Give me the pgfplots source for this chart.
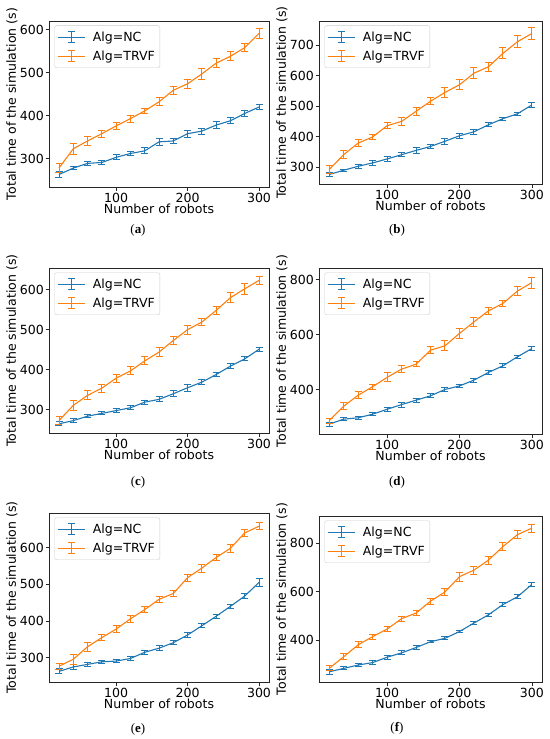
\documentclass[border=0pt]{standalone}
\usepackage{pgfplots}
\pgfplotsset{compat=1.18}
\usepackage{pgfplotstable}
\usepackage{fontspec}
\setmainfont{DejaVu Sans}
\newfontfamily\capfont{Liberation Serif}
\definecolor{tabblue}{HTML}{1F77B4}
\definecolor{taborange}{HTML}{FF7F0E}
\newcommand\fs{\fontsize{12.6}{15}\selectfont}

\pgfplotstableread{
x n ne t te
20 263 7 278 11
40 278 4 323 13
60 289 4 341 11
80 291 5 358 8
100 303 6 376 8
120 312 5 393 8
140 318 7 411 6
160 339 8 432 9
180 341 6 459 9
200 358 8 474 10
220 364 7 497 12
240 378 8 522 11
260 388 7 538 10
280 405 7 558 9
300 420 6 591 11
}\tA
\pgfplotstableread{
x n ne t te
20 276 6 292 12
40 290 4 341 13
60 303 6 379 12
80 314 7 399 9
100 327 7 436 10
120 341 7 450 12
140 355 9 483 12
160 368 8 516 11
180 385 9 545 15
200 403 8 570 16
220 416 8 608 19
240 439 7 629 15
260 459 5 673 18
280 475 5 711 19
300 504 7 738 19
}\tB
\pgfplotstableread{
x n ne t te
20 265 5 273 10
40 273 5 311 13
60 284 4 336 11
80 291 4 354 10
100 298 5 379 10
120 305 5 397 10
140 319 5 422 10
160 326 6 444 11
180 340 7 473 9
200 355 9 500 11
220 369 7 519 9
240 388 5 548 11
260 409 6 580 12
280 427 5 602 13
300 451 5 623 10
}\tC
\pgfplotstableread{
x n ne t te
20 274 7 286 8
40 292 5 339 13
60 297 5 379 13
80 310 6 410 9
100 328 8 444 16
120 345 9 474 13
140 361 8 492 10
160 377 7 543 12
180 400 6 559 18
200 413 6 604 17
220 434 7 646 17
240 462 6 686 14
260 486 7 713 12
280 519 6 758 15
300 549 7 789 20
}\tD
\pgfplotstableread{
x n ne t te
20 263 7 277 8
40 275 6 296 13
60 282 5 330 12
80 289 4 355 9
100 291 4 378 10
120 298 5 406 10
140 315 6 431 9
160 326 7 459 8
180 341 5 475 8
200 362 6 518 10
220 387 5 544 11
240 413 5 573 9
260 440 6 598 11
280 468 7 640 10
300 505 10 658 10
}\tE
\pgfplotstableread{
x n ne t te
20 270 9 284 10
40 284 6 332 13
60 298 5 381 12
80 308 7 415 10
100 330 9 446 11
120 348 8 489 11
140 370 8 512 10
160 394 5 561 13
180 408 6 599 15
200 436 6 662 19
220 471 6 689 17
240 505 5 730 16
260 547 7 786 17
280 579 8 835 17
300 630 9 862 16
}\tF

\pgfplotsset{
  panel/.style={
    scale only axis,
    xmin=6, xmax=314,
    xtick={100,200,300},
    tick align=outside,
    xtick pos=bottom, ytick pos=left,
    major tick length=3.5bp,
    every tick/.style={black!85, line width=0.6bp},
    axis line style={black!85, line width=0.6bp},
    tick label style={font=\fs},
    yticklabel style={inner xsep=1.5bp},
    xticklabel style={inner ysep=2bp},
    label style={font=\fs},
    /pgf/number format/assume math mode=true,
    xlabel={Number of robots},
    ylabel={Total time of the simulation (s)},
    xlabel style={at={(axis description cs:0.5,0)}, anchor=base, yshift=-26.5bp},
    ylabel style={at={(axis description cs:0,0.5)}, anchor=center, yshift=37bp},
    legend style={at={(axis description cs:0,1)}, anchor=north west,
      xshift=5.5bp, yshift=-4.5bp, draw=black!20,
      rounded corners=2bp, fill=white, font=\fs, inner xsep=3bp, inner ysep=4bp,
      row sep=4bp, column sep=5bp, cells={anchor=west}},
    legend cell align=left,
  },
  ncs/.style={tabblue, line width=1.1bp, no marks,
    legend image code/.code={
      \draw[tabblue, line width=1.1bp] (0bp,0bp) -- (27bp,0bp);
      \draw[tabblue, line width=1bp] (13.5bp,-5.5bp) -- (13.5bp,5.5bp);
      \draw[tabblue, line width=1bp] (10bp,-5.5bp) -- (17bp,-5.5bp);
      \draw[tabblue, line width=1bp] (10bp,5.5bp) -- (17bp,5.5bp);},
    error bars/.cd, y dir=both, y explicit,
    error bar style={line width=1bp, tabblue},
    error mark options={rotate=90, tabblue, mark size=3.5bp, line width=1bp}},
  trs/.style={taborange, line width=1.1bp, no marks,
    legend image code/.code={
      \draw[taborange, line width=1.1bp] (0bp,0bp) -- (27bp,0bp);
      \draw[taborange, line width=1bp] (13.5bp,-5.5bp) -- (13.5bp,5.5bp);
      \draw[taborange, line width=1bp] (10bp,-5.5bp) -- (17bp,-5.5bp);
      \draw[taborange, line width=1bp] (10bp,5.5bp) -- (17bp,5.5bp);},
    error bars/.cd, y dir=both, y explicit,
    error bar style={line width=1bp, taborange},
    error mark options={rotate=90, taborange, mark size=3.5bp, line width=1bp}},
}

\begin{document}
\begin{tikzpicture}[x=1bp,y=1bp]
\fill[white] (0,0) rectangle (550,-739);
\useasboundingbox (0,0) rectangle (550,-739);

% (a)
\begin{axis}[panel, at={(49bp,-187bp)}, anchor=south west, width=220bp, height=166bp,
  ymin=234, ymax=620, ytick={300,400,500,600}]
\addplot[ncs] table[x=x, y=n, y error=ne] {\tA};
\addplot[trs] table[x=x, y=t, y error=te] {\tA};
\legend{Alg=NC, Alg=TRVF}
\end{axis}
% (b)
\begin{axis}[panel, at={(319bp,-184bp)}, anchor=south west, width=223bp, height=163bp,
  ymin=245, ymax=779, ytick={300,400,500,600,700}]
\addplot[ncs] table[x=x, y=n, y error=ne] {\tB};
\addplot[trs] table[x=x, y=t, y error=te] {\tB};
\legend{Alg=NC, Alg=TRVF}
\end{axis}
% (c)
\begin{axis}[panel, at={(49bp,-433bp)}, anchor=south west, width=220bp, height=165bp,
  ymin=242, ymax=654, ytick={300,400,500,600}]
\addplot[ncs] table[x=x, y=n, y error=ne] {\tC};
\addplot[trs] table[x=x, y=t, y error=te] {\tC};
\legend{Alg=NC, Alg=TRVF}
\end{axis}
% (d)
\begin{axis}[panel, at={(319bp,-434bp)}, anchor=south west, width=223bp, height=166bp,
  ymin=238, ymax=842, ytick={400,600,800}]
\addplot[ncs] table[x=x, y=n, y error=ne] {\tD};
\addplot[trs] table[x=x, y=t, y error=te] {\tD};
\legend{Alg=NC, Alg=TRVF}
\end{axis}
% (e)
\begin{axis}[panel, at={(49bp,-682bp)}, anchor=south west, width=220bp, height=169bp,
  ymin=234, ymax=694, ytick={300,400,500,600}]
\addplot[ncs] table[x=x, y=n, y error=ne] {\tE};
\addplot[trs] table[x=x, y=t, y error=te] {\tE};
\legend{Alg=NC, Alg=TRVF}
\end{axis}
% (f)
\begin{axis}[panel, at={(319bp,-682bp)}, anchor=south west, width=223bp, height=166bp,
  ymin=228, ymax=912, ytick={400,600,800}]
\addplot[ncs] table[x=x, y=n, y error=ne] {\tF};
\addplot[trs] table[x=x, y=t, y error=te] {\tF};
\legend{Alg=NC, Alg=TRVF}
\end{axis}

\tikzset{subcap/.style={font=\capfont\fontsize{13}{15}\selectfont}}
\node[subcap] at (138,-230) {(\textbf{a})};
\node[subcap] at (397,-230) {(\textbf{b})};
\node[subcap] at (138,-482) {(\textbf{c})};
\node[subcap] at (397,-482) {(\textbf{d})};
\node[subcap] at (138,-729) {(\textbf{e})};
\node[subcap] at (397,-728) {(\textbf{f})};
\end{tikzpicture}
\end{document}
